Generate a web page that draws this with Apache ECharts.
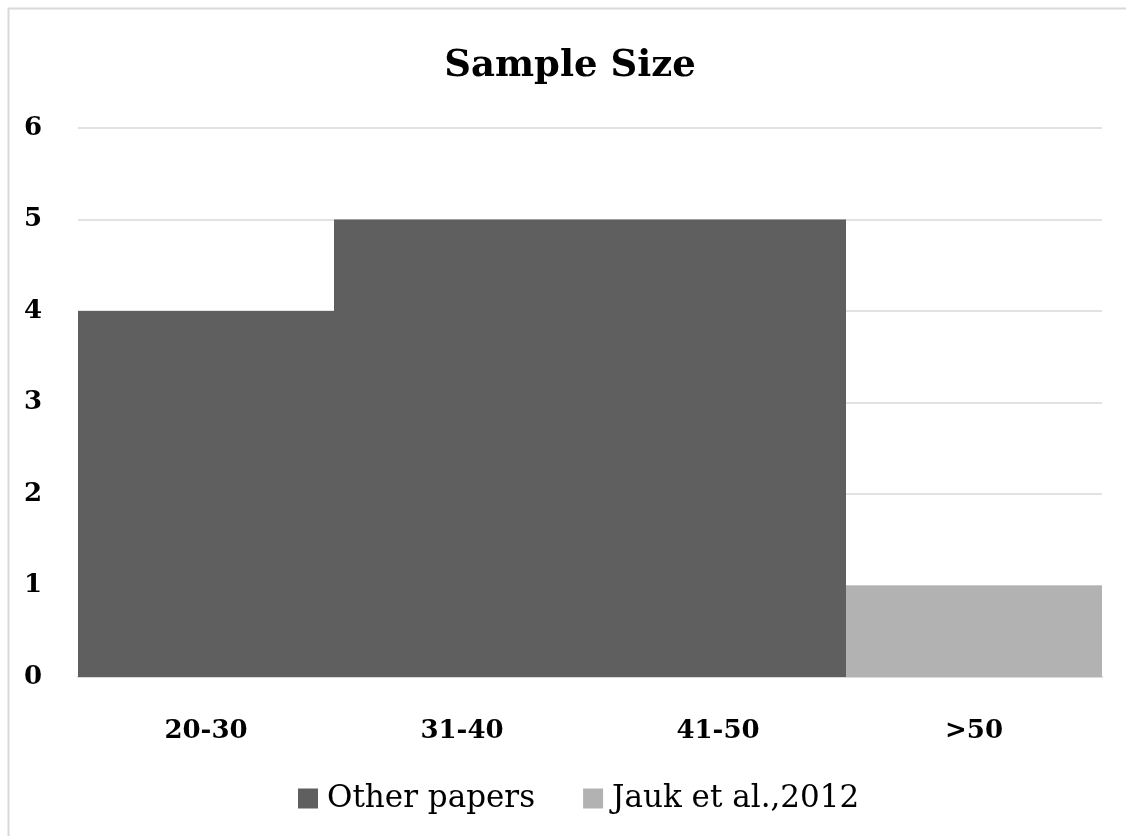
<!DOCTYPE html>
<html>
<head>
<meta charset="utf-8">
<script src="https://cdn.jsdelivr.net/npm/echarts@6/dist/echarts.min.js"></script>
<style>
  html, body { margin: 0; padding: 0; background: #ffffff; }
  #chart { width: 1126px; height: 836px; }
</style>
</head>
<body>
<div id="chart"></div>
<script>
// Sample-size bins and number of papers in each
const categories = ['20-30', '31-40', '41-50', '>50'];
const otherPapers = [4, 5, 5, 0];
const jauk2012 = [0, 0, 0, 1];
const seriesNames = ['Other papers', 'Jauk et al.,2012'];
const yTicks = [0, 1, 2, 3, 4, 5, 6];

const FONT = '"DejaVu Serif", "Liberation Serif", serif';

const chart = echarts.init(document.getElementById('chart'), null, { renderer: 'canvas' });

chart.setOption({
  backgroundColor: '#ffffff',
  animation: false,
  title: {
    text: 'Sample Size',
    left: 565,
    top: 61,
    textAlign: 'center',
    textVerticalAlign: 'middle',
    textStyle: { fontFamily: FONT, fontWeight: 'bold', fontSize: 37, color: '#000000' }
  },
  legend: {
    data: seriesNames,
    left: 293,
    top: 778,
    itemWidth: 20,
    itemHeight: 20,
    itemGap: 48,
    icon: 'rect',
    textStyle: { fontFamily: FONT, fontSize: 31, color: '#000000', padding: [0, 0, 0, 4] }
  },
  grid: { left: 78, right: 24, top: 128, bottom: 159, containLabel: false },
  xAxis: {
    type: 'category',
    data: categories,
    axisLine: { show: true, lineStyle: { color: '#d9d9d9', width: 2 } },
    axisTick: { show: false },
    axisLabel: { fontFamily: FONT, fontWeight: 'bold', fontSize: 26, color: '#000000', margin: 41 }
  },
  yAxis: {
    type: 'value',
    min: yTicks[0],
    max: yTicks[yTicks.length - 1],
    interval: 1,
    axisLine: { show: false },
    axisTick: { show: false },
    splitLine: { show: true, lineStyle: { color: '#d9d9d9', width: 1.5 } },
    axisLabel: { fontFamily: FONT, fontWeight: 'bold', fontSize: 26, color: '#000000', margin: 36 }
  },
  series: [
    {
      name: seriesNames[0],
      type: 'bar',
      stack: 'total',
      data: otherPapers,
      barCategoryGap: '0%',
      itemStyle: { color: '#5f5f5f' }
    },
    {
      name: seriesNames[1],
      type: 'bar',
      stack: 'total',
      data: jauk2012,
      barCategoryGap: '0%',
      itemStyle: { color: '#b2b2b2' }
    }
  ],
  graphic: [
    {
      type: 'rect',
      left: 6,
      top: 6,
      shape: { x: 0, y: 0, width: 1200, height: 900 },
      style: { fill: null, stroke: '#d9d9d9', lineWidth: 2 },
      silent: true
    }
  ]
});
</script>
</body>
</html>
